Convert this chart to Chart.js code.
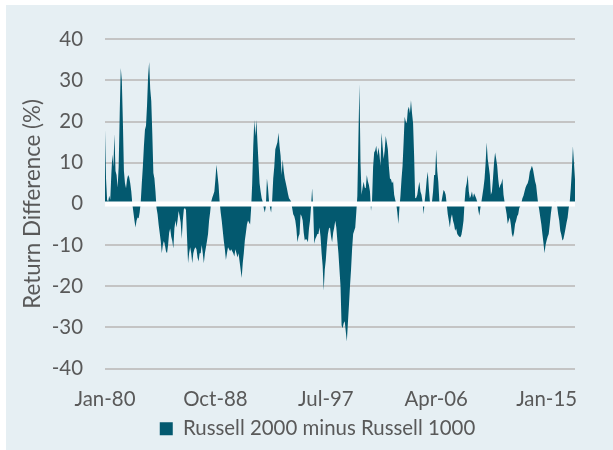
<!DOCTYPE html>
<html>
<head>
<meta charset="utf-8">
<script src="https://cdn.jsdelivr.net/npm/chart.js@4.4.1/dist/chart.umd.min.js"></script>
<style>
    html, body { margin: 0; padding: 0; background: #ffffff; }
    #painel { position: absolute; left: 6px; top: 5px; width: 607px; height: 445px; background: #e6eff3; }
</style>
</head>
<body>
<div id="painel"><canvas id="graficoRetorno" width="607" height="445"></canvas></div>
<script>
// Russell 2000 minus Russell 1000, monthly, Jan-80 onwards (%)
var retorno = [
    18, 6, 1, 0.5, 2, 1, 7, 12, 9, 17, 8, 7,                         // 1980
    4, 9, 22, 33, 30, 20, 8, 5, 3.8, 6, 7, 6.5,                      // 1981
    5, 3, 0, -2, -4, -5.7, -4, -3.3, -3.5, -2, 0.5, 5,               // 1982
    9, 14, 18, 19, 24, 31, 34.5, 28, 25, 17, 7.5, 6.2,               // 1983
    3, -1, -2.5, -5, -7, -9, -12, -10, -9, -10, -11.5, -12,          // 1984
    -10, -7, -6, -8, -9, -10.8, -6, -4, -5.7, -4, -1.7, -3,          // 1985
    -4.5, -8.5, -4, -1.3, -1, -1.5, -8, -14.4, -12, -10.5, -12, -14.4, // 1986
    -12, -11, -10.5, -11, -13, -14, -12, -12, -10, -12, -14.4, -12,  // 1987
    -10.5, -9, -7.3, -4, -2, 0.5, 1.5, 2.2, 3, 6, 9.5, 7,            // 1988
    4.6, 0.6, -2, -4, -6.5, -9, -11, -13.6, -12, -10.5, -11, -11.5,  // 1989
    -11, -11.5, -12, -12.8, -11, -12, -13, -12, -14, -16, -18, -14.4, // 1990
    -12, -8.9, -7, -5, -4, -4.5, -5, -1, 5, 14, 20.4, 16.5,          // 1991
    20.4, 15, 10, 5, 3, 1.4, 0.5, -1, -2.1, -0.5, 6.2, 4,            // 1992
    0.6, -1, -2.1, 1, 6.2, 9, 13.3, 14.1, 15, 17.3, 14, 11.7,        // 1993
    7, 10.8, 8, 6.2, 5, 3.8, 2.5, 1.4, 1, 0.6, -1, -2.5,             // 1994
    -3, -4, -6, -9.3, -8, -7.3, -2.5, -3, -4, -7, -8.9, -8.5,        // 1995
    -8.7, -9.3, -6, -4, -0.5, 3.8, -1, -9.7, -8.5, -8, -7.3, -7.3,   // 1996
    -5.7, -8, -12, -15, -21.1, -16, -13.6, -10, -7.3, -6, -5.7, -8,  // 1997
    -9.3, -7, -5.7, -4.1, -5.7, -9, -12, -16, -20, -29.5, -30.2, -29, // 1998
    -28.5, -31, -33.4, -29, -24.7, -20, -16, -11, -7.3, -6.5, -5.7, -2, // 1999
    2, 15.7, 29.1, 10, 2.2, 4, 5.4, 4, 3.8, 7, 5.5, 4.6,             // 2000
    3, -1.7, 1, 9, 12.5, 13, 14.1, 11.7, 13.7, 12, 9.3, 17.3,        // 2001
    14, 10.9, 13, 16.5, 15, 13.3, 9, 6.2, 6, 5, 5.5, 2.2,            // 2002
    1, 0, -2, -4.9, -1, 2, 6, 9.3, 15, 21.2, 20, 19.6,               // 2003
    22.8, 23.6, 22, 25.2, 22, 19.6, 11.7, 1.4, 1.5, 2.2, 4, 5.4,     // 2004
    3, 2.2, 0.5, -2.5, 0.5, 3, 6, 7.8, 3.8, 0.6, -0.5, 0.5,          // 2005
    3, 7, 7, 13.3, 8, 5.4, 0.6, 0.3, 0.5, 2, 3.4, 3,                 // 2006
    2.2, 0, -2.5, -4, -5.7, -3.5, -2.5, -4.1, -5, -6.5, -6, -7.3,    // 2007
    -7.7, -8, -8.1, -7.5, -6, -4, 0.5, 3.8, 5, 7, 3, 1.4,            // 2008
    2, 3, 1.5, 2.6, 2, 1.4, 0.5, -1.5, -2.9, -1, 0.5, 2.2,           // 2009
    4, 6.2, 10, 14.9, 10.9, 9, 7, 2.2, 3, 6.2, 10, 12.5,             // 2010
    11, 9.3, 6, 3.8, 4.6, 5, 6.2, 2.2, 0.5, -1, -2.5, -4.9,          // 2011
    -4, -3.3, -5, -7.3, -8.1, -7, -4.9, -4.1, -3, -2.5, -1, -0.5,    // 2012
    0.3, 1.4, 2, 3, 4, 4.6, 5, 6, 7.8, 8.5, 9.3, 8.5,                // 2013
    7, 5.5, 4.6, 2.2, 0, -1.5, -3.3, -5, -7.3, -9.5, -12, -10,       // 2014
    -8.9, -8, -7.3, -5, -2.5, -0.5, 0, 0.3, 0.6, 0.2, -0.5, -2.5,    // 2015
    -4, -6.5, -7.5, -8.9, -8.5, -7.3, -6, -4.5, -3.3, -1, 0.5, 3.8,  // 2016
    8, 14, 10, 6                                                     // 2017
];

var meses = ["Jan", "Feb", "Mar", "Apr", "May", "Jun", "Jul", "Aug", "Sep", "Oct", "Nov", "Dec"];
var anoInicial = 1980;
var rotulosEixo = ["Jan-80", "Oct-88", "Jul-97", "Apr-06", "Jan-15"];
var nomeSerie = "Russell 2000 minus Russell 1000";
var tituloY = "Return Difference (%)";

var categorias = retorno.map(function (v, i) {
    var ano = (anoInicial + Math.floor(i / 12)) % 100;
    return meses[i % 12] + "-" + (ano < 10 ? "0" + ano : ano);
});

var corTexto = "#595959";
var corSerie = "#03596f";

// fit font sizes to the text widths of the original
var medidor = document.createElement("canvas").getContext("2d");
function tamanhoFonte(texto, largura) {
    medidor.font = "100px Lato";
    return Math.round(1000 * largura / medidor.measureText(texto).width) / 10;
}
var fonteTicks = tamanhoFonte("Jan-80", 61);
var fonteLegenda = tamanhoFonte(nomeSerie, 293);
var fonteTitulo = tamanhoFonte(tituloY, 210);

// white zero line drawn over the area
var linhaZero = {
    id: "linhaZero",
    afterDatasetsDraw: function (chart) {
        var area = chart.chartArea;
        var y = chart.scales.y.getPixelForValue(0);
        var c = chart.ctx;
        c.save();
        c.strokeStyle = "#ffffff";
        c.lineWidth = 5;
        c.beginPath();
        c.moveTo(area.left, y);
        c.lineTo(area.right, y);
        c.stroke();
        c.restore();
    }
};

// legend sits a bit right of centre in the original
var deslocaLegenda = {
    id: "deslocaLegenda",
    afterLayout: function (chart) {
        if (chart.legend) {
            chart.legend.left += 27;
            chart.legend.right += 27;
        }
    }
};

document.addEventListener("DOMContentLoaded", function () {
    var ctx = document.getElementById("graficoRetorno").getContext("2d");

    new Chart(ctx, {
        type: "line",
        data: {
            labels: categorias,
            datasets: [{
                label: nomeSerie,
                data: retorno,
                fill: "origin",
                backgroundColor: corSerie,
                borderColor: corSerie,
                borderWidth: 0,
                pointRadius: 0,
                tension: 0
            }]
        },
        options: {
            responsive: false,
            animation: false,
            layout: {
                padding: { top: 30, right: 38, bottom: 1, left: 0 }
            },
            plugins: {
                legend: {
                    position: "bottom",
                    labels: {
                        boxWidth: 13,
                        boxHeight: 13,
                        padding: 8,
                        color: corTexto,
                        font: { family: "Lato", size: fonteLegenda }
                    }
                },
                tooltip: { enabled: false }
            },
            scales: {
                x: {
                    type: "category",
                    offset: false,
                    grid: { display: false },
                    border: { display: false },
                    ticks: {
                        autoSkip: false,
                        maxRotation: 0,
                        minRotation: 0,
                        padding: 11,
                        color: corTexto,
                        font: { family: "Lato", size: fonteTicks },
                        callback: function (value) {
                            var rotulo = this.getLabelForValue(value);
                            return rotulosEixo.indexOf(rotulo) >= 0 ? rotulo : null;
                        }
                    },
                    afterFit: function (escala) {
                        escala.height = 42;
                    }
                },
                y: {
                    min: -40,
                    max: 40,
                    ticks: {
                        stepSize: 10,
                        padding: 22,
                        color: corTexto,
                        font: { family: "Lato", size: fonteTicks }
                    },
                    grid: { color: "#c4c4c4", lineWidth: 2, drawTicks: false },
                    border: { display: false },
                    title: {
                        display: true,
                        text: tituloY,
                        color: corTexto,
                        font: { family: "Lato", size: fonteTitulo },
                        padding: { top: 13, bottom: 0 }
                    },
                    afterFit: function (escala) {
                        escala.width = 99;
                    }
                }
            }
        },
        plugins: [linhaZero, deslocaLegenda]
    });
});
</script>
</body>
</html>
